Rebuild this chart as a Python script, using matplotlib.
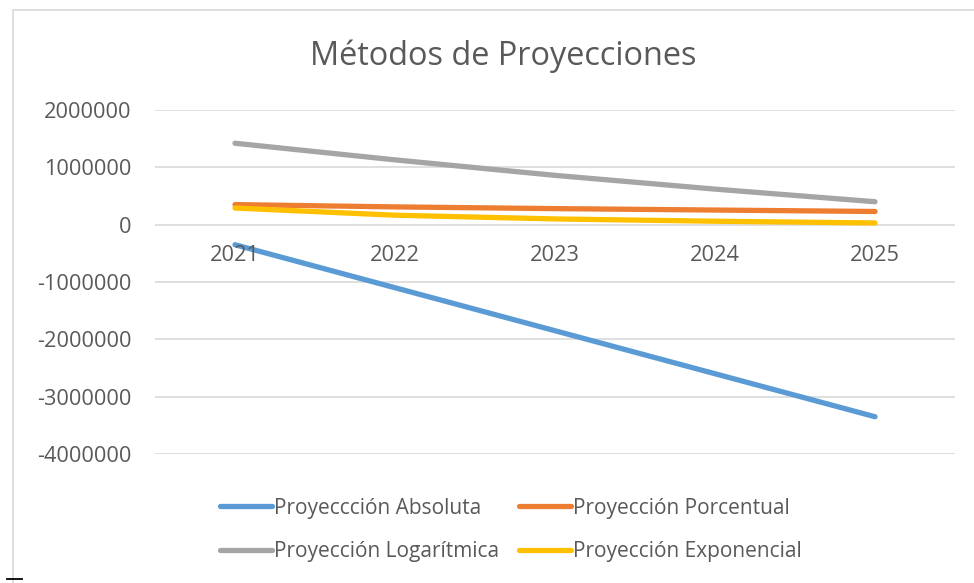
import matplotlib.pyplot as plt
from matplotlib.patches import Rectangle
from matplotlib.lines import Line2D

# datos
anios = ['2021', '2022', '2023', '2024', '2025']
absoluta = [-350000, -1100000, -1850000, -2600000, -3350000]
porcentual = [350000, 310000, 280000, 255000, 230000]
logaritmica = [1420000, 1130000, 860000, 620000, 400000]
exponencial = [290000, 165000, 100000, 60000, 30000]
yticks = [2000000, 1000000, 0, -1000000, -2000000, -3000000, -4000000]

plt.rcParams['font.family'] = ['Open Sans', 'DejaVu Sans']
gris_texto = '#595959'

fig = plt.figure(figsize=(9.74, 5.83), dpi=100)
ax = fig.add_axes([155 / 974, 129 / 583, 800 / 974, 344 / 583])

# marco del grafico
fig.patches.append(Rectangle((13 / 974, -0.01), 0.99, 1 - 10 / 583 + 0.01,
                             transform=fig.transFigure, fill=False,
                             edgecolor='#D9D9D9', linewidth=1.2))
fig.lines.append(Line2D([7 / 974, 22 / 974], [4 / 583, 4 / 583],
                        transform=fig.transFigure, color='black', linewidth=1.3))

x = range(len(anios))
l1, = ax.plot(x, absoluta, color='#5B9BD5', linewidth=3.8, solid_capstyle='round', label='Proyeccción Absoluta')
l2, = ax.plot(x, porcentual, color='#ED7D31', linewidth=3.8, solid_capstyle='round', label='Proyección Porcentual')
l3, = ax.plot(x, logaritmica, color='#A5A5A5', linewidth=3.8, solid_capstyle='round', label='Proyección Logarítmica')
l4, = ax.plot(x, exponencial, color='#FFC000', linewidth=3.8, solid_capstyle='round', label='Proyección Exponencial')

ax.set_xlim(-0.5, 4.5)
ax.set_ylim(-4000000, 2000000)
ax.set_yticks(yticks)
ax.set_yticklabels([str(v) for v in yticks])
ax.tick_params(axis='y', length=0, pad=17, labelsize=15.7, labelcolor=gris_texto)
ax.set_xticks([])
ax.grid(axis='y', color='#D9D9D9', linewidth=1.2)
ax.set_axisbelow(True)
for s in ax.spines.values():
    s.set_visible(False)

# etiquetas de categorias junto al eje 0
for i, a in enumerate(anios):
    ax.annotate(a, (i, 0), xytext=(0, -22), textcoords='offset points',
                ha='center', va='center', fontsize=15.7, color=gris_texto)

fig.text(503 / 974, 1 - 56 / 583, 'Métodos de Proyecciones', ha='center', va='center',
         fontsize=23.4, color=gris_texto)

# orden por filas como en Excel
ax.legend([l1, l3, l2, l4], [l.get_label() for l in [l1, l3, l2, l4]],
          loc='center', bbox_to_anchor=(511 / 974, 1 - 530 / 583),
          bbox_transform=fig.transFigure, ncol=2,
          frameon=False, fontsize=15, labelcolor=gris_texto, handlelength=2.5,
          handletextpad=0.1, columnspacing=0.95, labelspacing=1.1)

fig.savefig('out.png', dpi=100)
